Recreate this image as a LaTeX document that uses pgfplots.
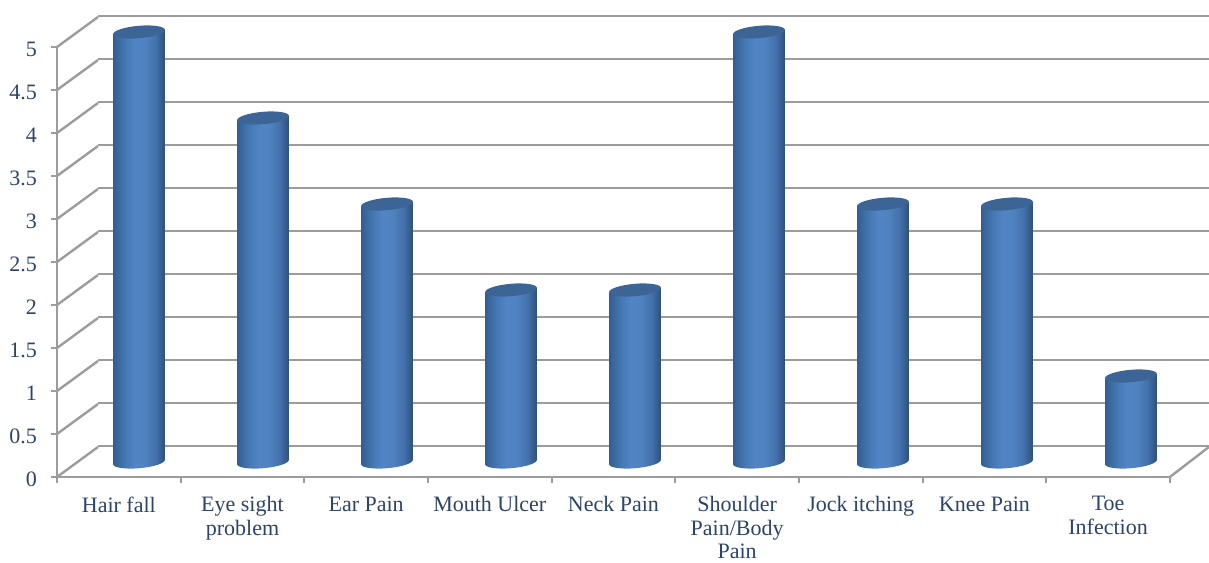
\documentclass[border=0pt]{standalone}
\usepackage{fontspec}
\setmainfont{Liberation Serif}
\usepackage{pgfplots}
\pgfplotsset{compat=1.18}
\usepackage{pgfplotstable}

\definecolor{wallgrey}{HTML}{9C9C9C}
\definecolor{labelblue}{HTML}{2B4468}
\definecolor{capblue}{HTML}{3C6595}
\pgfdeclarehorizontalshading{cylshade}{100bp}{
  rgb(0bp)=(0.20,0.37,0.57);
  rgb(25bp)=(0.20,0.37,0.57);
  rgb(36bp)=(0.27,0.47,0.70);
  rgb(46bp)=(0.32,0.52,0.77);
  rgb(56bp)=(0.31,0.51,0.75);
  rgb(66bp)=(0.26,0.44,0.67);
  rgb(75bp)=(0.18,0.31,0.47);
  rgb(100bp)=(0.18,0.31,0.47)}

% One cylinder, hung from its data point; \barv is the plotted value.
% The ends are ellipses tilted by five degrees, written out as Bezier arcs.
\pgfdeclareplotmark{cylinder}{%
  \path[draw=none,shading=cylshade]
    (-25.9pt,-2.27pt) -- (-25.9pt,-2.27pt-\barv*86pt)
    .. controls (-25.602pt,-5.683pt-\barv*86pt) and (-13.76pt,-7.434pt-\barv*86pt) .. (0.54pt,-6.18pt-\barv*86pt)
    .. controls (14.84pt,-4.926pt-\barv*86pt) and (26.198pt,-1.143pt-\barv*86pt) .. (25.9pt,2.27pt-\barv*86pt)
    -- (25.9pt,2.27pt) -- cycle;
  \pgfsetfillcolor{capblue}%
  \pgfpathellipse{\pgfpointorigin}{\pgfqpoint{25.9pt}{2.27pt}}{\pgfqpoint{-0.54pt}{6.18pt}}%
  \pgfusepath{fill}%
}

\pgfplotstableread{
idx value
0 5
1 4
2 3
3 2
4 2
5 5
6 3
7 3
8 1
}\symptoms

\begin{document}
\begin{tikzpicture}[x=1pt,y=1pt]
\path[use as bounding box] (0,0) rectangle (1209,562);

% back wall with the horizontal gridlines
\begin{axis}[
  at={(98pt,116pt)},anchor=south west,
  scale only axis,width=1111pt,height=430pt,
  xmin=0,xmax=9,ymin=0,ymax=5,
  axis line style={draw=none},
  xtick=\empty,ytick={0,0.5,...,5},yticklabels={},
  major tick length=0pt,
  ymajorgrids,
  grid style={draw=wallgrey,line width=2.4pt},
]
\end{axis}

% front frame: value axis, category axis, and the oblique edges of wall and floor
\begin{axis}[
  at={(57pt,85pt)},anchor=south west,
  scale only axis,width=1113pt,height=430pt,
  xmin=-0.5,xmax=8.5,ymin=0,ymax=5,
  clip=false,
  axis x line*=bottom,axis y line*=left,
  axis line style={draw=wallgrey,line width=2.4pt,-},
  tick style={draw=wallgrey,line width=1.8pt},
  major tick length=6pt,
  tick align=outside,
  ytick={0,0.5,...,5},
  yticklabels={0,0.5,1,1.5,2,2.5,3,3.5,4,4.5,5},
  yticklabel style={font=\fontsize{22}{25}\selectfont,text=labelblue,xshift=-10.5pt,yshift=-2pt},
  xtick={-0.5,0.5,...,8.5},
  xticklabels={},
  extra x ticks={0,...,8},
  extra x tick labels={Hair fall,Eye sight\\problem,Ear Pain,Mouth Ulcer,Neck Pain,Shoulder\\Pain/Body\\Pain,Jock itching,Knee Pain,Toe\\Infection},
  extra x tick style={
    major tick length=0pt,
    tick style={draw=none},
    xticklabel style={font=\fontsize{22}{23.4}\selectfont,text=labelblue,align=center,anchor=north,yshift=-16pt},
  },
]
\pgfplotsinvokeforeach{0,0.5,...,5}{
  \addplot[draw=wallgrey,line width=2.4pt,forget plot] coordinates {(-0.5,#1) (-0.1685,#1+0.349)};
}
\addplot[draw=wallgrey,line width=2.4pt,forget plot] coordinates {(8.5,0) (8.815,0.349)};
\end{axis}

% cylinders stand halfway between the front frame and the back wall
\begin{axis}[
  at={(77pt,100pt)},anchor=south west,
  scale only axis,width=1116pt,height=430pt,
  xmin=-0.5,xmax=8.5,ymin=0,ymax=5,
  hide axis,clip=false,
]
\addplot[
  only marks,scatter,
  mark=cylinder,
  visualization depends on={y \as \barv},
  scatter/@pre marker code/.code={},
  scatter/@post marker code/.code={},
] table[x=idx,y=value] {\symptoms};
\end{axis}
\end{tikzpicture}
\end{document}
